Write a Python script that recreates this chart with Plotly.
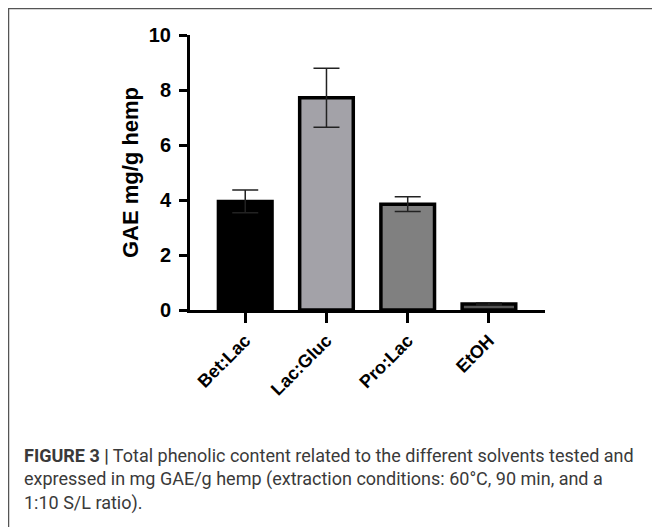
import plotly.graph_objects as go

categories = ["Bet:Lac", "Lac:Gluc", "Pro:Lac", "EtOH"]
values = [3.95, 7.72, 3.85, 0.22]
errors = [0.41, 1.07, 0.27, 0.04]
bar_colors = ["#000000", "#a3a2a8", "#808080", "#555555"]
y_ticks = [0, 2, 4, 6, 8, 10]

W, H = 652, 519
L, T = 182, 27
R, B = W - 537, H - 302
PW, PH = W - L - R, H - T - B


def px(x):
    return (x - L) / PW


def py(y):
    return (H - B - y) / PH


fig = go.Figure()
fig.add_trace(go.Bar(
    x=categories, y=values,
    width=0.66,
    marker=dict(color=bar_colors, line=dict(color="#000000", width=3.5)),
    error_y=dict(type="data", array=errors, visible=True, color="#222222",
                 thickness=1.5, width=13),
))

fig.update_layout(
    width=W, height=H,
    margin=dict(l=L, r=R, t=T, b=B),
    plot_bgcolor="white", paper_bgcolor="white",
    showlegend=False,
    font=dict(family="Arial, Liberation Sans, sans-serif", color="#000000"),
    xaxis=dict(
        range=[-0.68, 3.69], showline=True, linecolor="#000000", linewidth=3,
        ticks="outside", ticklen=10, tickwidth=2.5, tickcolor="#000000",
        tickangle=-45, tickfont=dict(size=18, weight="bold"),
        showgrid=False, zeroline=False,
    ),
    yaxis=dict(
        range=[0, 10], tickvals=y_ticks, showline=True, linecolor="#000000",
        linewidth=3, ticks="outside", ticklen=8, tickwidth=3, tickcolor="#000000",
        tickfont=dict(size=20, weight="bold"), showgrid=False, zeroline=False,
        ticklabelstandoff=4,
        title=dict(text="<b>GAE mg/g hemp</b>", font=dict(size=22), standoff=5),
    ),
)

# Figure frame
fig.add_shape(type="line", xref="paper", yref="paper",
              x0=px(0), x1=px(W + 10), y0=py(0.5), y1=py(0.5),
              line=dict(color="#555555", width=1.5))
fig.add_shape(type="line", xref="paper", yref="paper",
              x0=px(0.5), x1=px(0.5), y0=py(0), y1=py(H + 10),
              line=dict(color="#555555", width=1.5))

caption_lines = [
    "<b>FIGURE 3 |</b> Total phenolic content related to the different solvents tested and",
    "expressed in mg GAE/g hemp (extraction conditions: 60°C, 90 min, and a",
    "1:10 S/L ratio).",
]
caption_y = [447, 471, 495]
for txt, yy in zip(caption_lines, caption_y):
    fig.add_annotation(text=txt, xref="paper", yref="paper", x=px(14), y=py(yy),
                       xanchor="left", yanchor="middle", showarrow=False,
                       font=dict(size=18, color="#3a3a3a",
                                 family="Liberation Sans Narrow, Arial Narrow, Roboto, sans-serif"))

fig.write_html("out.html")
